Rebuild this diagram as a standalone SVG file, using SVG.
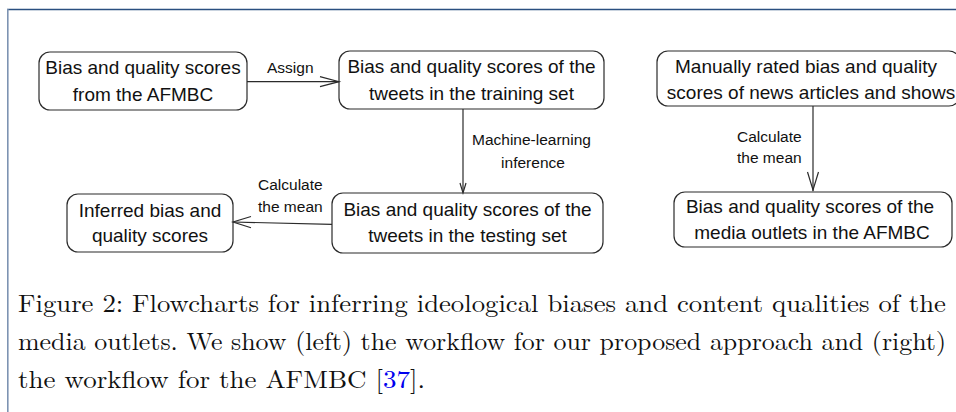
<svg xmlns="http://www.w3.org/2000/svg" width="956" height="412" viewBox="0 0 956 412">
  <style>
    .box { fill: #ffffff; stroke: #2b2b2b; stroke-width: 1.2; }
    .node { font-family: "Liberation Sans", Arial, sans-serif; font-size: 19px; fill: #111111; text-anchor: middle; }
    .lbl { font-family: "Liberation Sans", Arial, sans-serif; font-size: 15.5px; fill: #111111; }
    .edge { fill: none; stroke: #2b2b2b; stroke-width: 1.2; }
    .cap { font-family: "Latin Modern Roman", "Liberation Serif", "Times New Roman", serif; font-size: 25px; fill: #111111; }
  </style>
  <rect x="0" y="0" width="956" height="412" fill="#ffffff"/>

  <!-- page frame -->
  <line x1="7" y1="9.5" x2="956" y2="9.5" stroke="#2a4f80" stroke-width="1.6"/>
  <line x1="7.8" y1="9" x2="7.8" y2="412" stroke="#7d93b2" stroke-width="1.6"/>

  <!-- left workflow: proposed approach -->
  <g id="afmbc-scores">
    <rect class="box" x="39" y="52" width="208" height="58" rx="11"/>
    <text class="node" x="143" y="74">Bias and quality scores</text>
    <text class="node" x="143" y="101">from the AFMBC</text>
  </g>
  <g id="training-scores">
    <rect class="box" x="339" y="51" width="265" height="58" rx="11"/>
    <text class="node" x="471.5" y="73">Bias and quality scores of the</text>
    <text class="node" x="471.5" y="100">tweets in the training set</text>
  </g>
  <g id="testing-scores">
    <rect class="box" x="332" y="193" width="271" height="60" rx="11"/>
    <text class="node" x="467.5" y="216">Bias and quality scores of the</text>
    <text class="node" x="467.5" y="242">tweets in the testing set</text>
  </g>
  <g id="inferred-scores">
    <rect class="box" x="67" y="194" width="166" height="58" rx="11"/>
    <text class="node" x="150" y="217">Inferred bias and</text>
    <text class="node" x="150" y="242">quality scores</text>
  </g>

  <!-- right workflow: AFMBC -->
  <g id="manual-ratings">
    <rect class="box" x="657" y="51" width="303" height="55" rx="11"/>
    <text class="node" x="806" y="73">Manually rated bias and quality</text>
    <text class="node" x="811" y="99">scores of news articles and shows</text>
  </g>
  <g id="outlet-scores">
    <rect class="box" x="674" y="192" width="278" height="55" rx="11"/>
    <text class="node" x="810" y="213">Bias and quality scores of the</text>
    <text class="node" x="812" y="239">media outlets in the AFMBC</text>
  </g>

  <!-- connectors -->
  <g id="connectors">
    <line class="edge" x1="247" y1="81.7" x2="339" y2="81.7"/>
    <polyline class="edge" points="320,76.7 339,81.7 320,86.7"/>
    <text class="lbl" x="267" y="73">Assign</text>

    <line class="edge" x1="463" y1="109" x2="463" y2="192.5"/>
    <polyline class="edge" points="460,183 463,193 466,183"/>
    <text class="lbl" x="472" y="145">Machine-learning</text>
    <text class="lbl" x="533" y="168" text-anchor="middle">inference</text>

    <line class="edge" x1="332" y1="224.3" x2="233" y2="222"/>
    <polyline class="edge" points="251,216.5 233,222 251,227.8"/>
    <text class="lbl" x="258" y="190">Calculate</text>
    <text class="lbl" x="258" y="212">the mean</text>

    <line class="edge" x1="813" y1="106" x2="813" y2="191"/>
    <polyline class="edge" points="807.5,172 813,190 818.5,172"/>
    <text class="lbl" x="737" y="142">Calculate</text>
    <text class="lbl" x="737" y="163">the mean</text>
  </g>

  <!-- caption -->
  <text class="cap" x="18" y="312" textLength="928" lengthAdjust="spacingAndGlyphs">Figure 2: Flowcharts for inferring ideological biases and content qualities of the</text>
  <text class="cap" x="18" y="350" textLength="928" lengthAdjust="spacingAndGlyphs">media outlets. We show (left) the workflow for our proposed approach and (right)</text>
  <text class="cap" x="18" y="388" textLength="407" lengthAdjust="spacingAndGlyphs">the workflow for the AFMBC [<tspan fill="#0000ee">37</tspan>].</text>
</svg>
